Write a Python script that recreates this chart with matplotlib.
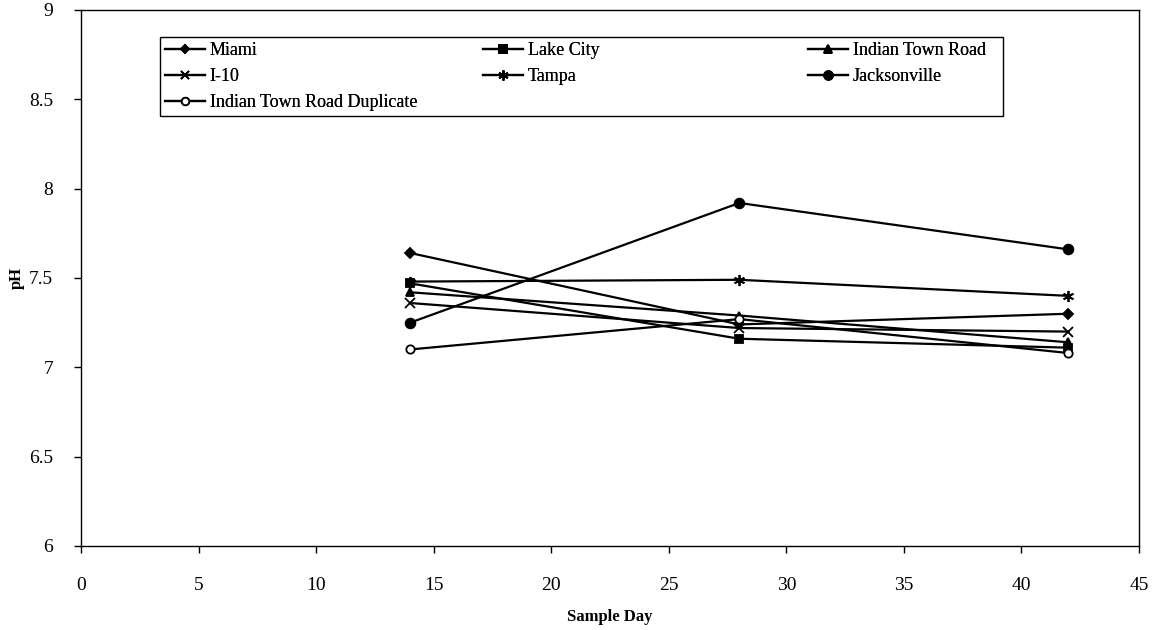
import matplotlib
matplotlib.use("Agg")
import matplotlib.pyplot as plt
from matplotlib.patches import Rectangle

# valores
dias = [14, 28, 42]
miami = [7.64, 7.24, 7.30]
lake_city = [7.47, 7.16, 7.11]
indian_town = [7.42, 7.29, 7.14]
i10 = [7.36, 7.22, 7.20]
tampa = [7.48, 7.49, 7.40]
jacksonville = [7.25, 7.92, 7.66]
indian_dup = [7.10, 7.27, 7.08]

series = [
    ("Miami", miami, "D", "black", 5),
    ("Lake City", lake_city, "s", "black", 6),
    ("Indian Town Road", indian_town, "^", "black", 6),
    ("I-10", i10, "x", "black", 7),
    ("Tampa", tampa, (6, 2, 0), "black", 8),
    ("Jacksonville", jacksonville, "o", "black", 7),
    ("Indian Town Road Duplicate", indian_dup, "o", "white", 6),
]

plt.rcParams['font.family'] = ['Liberation Serif', 'DejaVu Serif']

fig = plt.figure(figsize=(11.56, 6.3), dpi=100)
ax = fig.add_axes([81/1156, 1 - 546/630, (1139 - 81)/1156, (546 - 10)/630])

lineas = []
for nombre, valores, marcador, relleno, tam in series:
    l, = ax.plot(dias, valores, color="black", linewidth=1.6, marker=marcador,
                 markersize=tam, markerfacecolor=relleno, markeredgecolor="black",
                 markeredgewidth=1.3, label=nombre)
    lineas.append(l)

ax.set_xlim(0, 45)
ax.set_ylim(6, 9)
ax.set_xticks(range(0, 46, 5))
ax.set_yticks([6, 6.5, 7, 7.5, 8, 8.5, 9])
ax.set_yticklabels(["6", "6.5", "7", "7.5", "8", "8.5", "9"])
ax.tick_params(direction="out", length=5, width=1, labelsize=14)
ax.tick_params(axis="x", pad=17)
ax.tick_params(axis="y", pad=15)
for s in ax.spines.values():
    s.set_linewidth(1)
    s.set_color("black")

ax.set_xlabel("Sample Day", fontsize=12, fontweight="bold", labelpad=11)
ax.set_ylabel("pH", fontsize=12, fontweight="bold", labelpad=3)

# leyenda en tres columnas, filas en orden de la referencia
columnas = [(165, [0, 3, 6]), (483, [1, 4]), (808, [2, 5])]
for x0, idx in columnas:
    ley = fig.legend([lineas[i] for i in idx], [series[i][0] for i in idx],
                     loc="upper left", bbox_to_anchor=(x0/1156, 1 - 42/630),
                     fontsize=13, frameon=False, borderpad=0, borderaxespad=0,
                     handlelength=2.2, handletextpad=0.28, labelspacing=0.5,
                     markerscale=0.9)
    fig.add_artist(ley)

fig.add_artist(Rectangle((160/1156, 1 - 116/630), (1003 - 160)/1156, (116 - 37)/630,
                         transform=fig.transFigure, fill=False,
                         edgecolor="black", linewidth=1))

plt.savefig("out.png", dpi=100)
